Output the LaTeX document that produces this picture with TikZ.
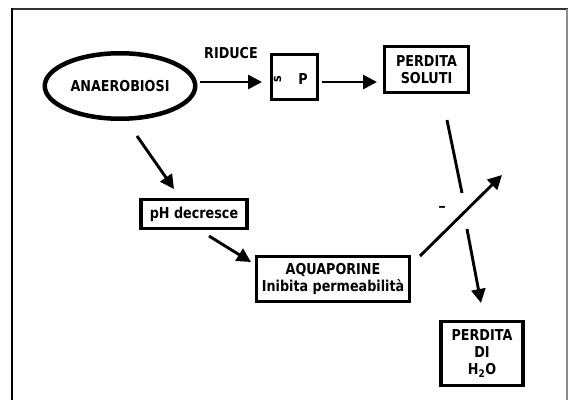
\documentclass[tikz,border=0pt]{standalone}
\usepackage{fontspec}
\setmainfont{DejaVu Sans}[FakeStretch=0.85]
\newfontfamily\dashfont{DejaVu Sans}
\usetikzlibrary{arrows.meta,shapes.geometric}
\begin{document}
\begin{tikzpicture}[x=1pt,y=-1pt,
  every node/.style={font=\fontsize{15}{17}\selectfont\bfseries,
    inner sep=0pt, outer sep=0pt, align=center},
  boxnode/.style={draw, rectangle, line width=3.2pt},
  arr/.style={line width=2.9pt, -{Triangle[length=14pt,width=14pt]}},
  link/.style={line width=2.9pt}]
\useasboundingbox (0,0) rectangle (568,400);

% page frame
\draw[black!80, line width=2.2pt] (12,9) -- (568,9);
\draw[black, line width=1.6pt] (12,8) -- (12,400);
\draw[black!45, line width=1.2pt] (567,9) -- (567,400);

% nodes
\node[draw, ellipse, line width=4.5pt, minimum width=150.5pt, minimum height=65.5pt]
  (anaer) at (120,86) {ANAEROBIOSI};
\node (riduce) at (231,53) {RIDUCE};
\node[boxnode, line width=2.8pt, minimum width=46pt, minimum height=45pt] (sp) at (294.5,77) {};
\node[font=\fontsize{13}{13}\selectfont\bfseries, rotate=90] (sglyph) at (277.5,79) {s};
\node (pglyph) at (303,79) {P};
\node[boxnode, minimum width=84pt, minimum height=46pt] (ps) at (426.5,69.5) {PERDITA\\SOLUTI};
\node[boxnode, minimum width=106pt, minimum height=29pt] (ph) at (194,214) {pH decresce};
\node[boxnode, minimum width=153pt, minimum height=45pt] (aq) at (333,279)
  {AQUAPORINE\\Inibita permeabilità};
\node[boxnode, line width=3.5pt, minimum width=82pt, minimum height=64pt] (h2o) at (482,353.5)
  {PERDITA\\DI\\H\textsubscript{2}O};
\node[font=\fontsize{15}{15}\dashfont\bfseries] (minus) at (442,209) {–};

% free ends
\coordinate (gaptop) at (462,193);
\coordinate (gapbot) at (467,229);
\coordinate (tipend) at (502,175);

% connectors
\draw[arr] ([xshift=4.75pt,yshift=4pt]anaer.east) -- ([xshift=-9.5pt,yshift=-5pt]sp.west);
\draw[arr] ([xshift=4.5pt,yshift=-5pt]sp.east) -- ([xshift=-7.5pt,yshift=-12.5pt]ps.west);
\draw[link] ([xshift=20.5pt,yshift=-27.5pt]ps.south) -- (gaptop);
\draw[arr] (gapbot) -- ([xshift=-1pt,yshift=18.5pt]h2o.north);
\draw[arr] ([xshift=10.5pt,yshift=0.5pt]aq.north east) -- (tipend);
\draw[arr] ([xshift=17pt,yshift=-17.25pt]anaer.south) -- ([xshift=-20pt,yshift=10.5pt]ph.north);
\draw[arr] ([xshift=15pt,yshift=-7.5pt]ph.south) -- ([xshift=-5.5pt,yshift=17pt]aq.west);
\end{tikzpicture}
\end{document}
